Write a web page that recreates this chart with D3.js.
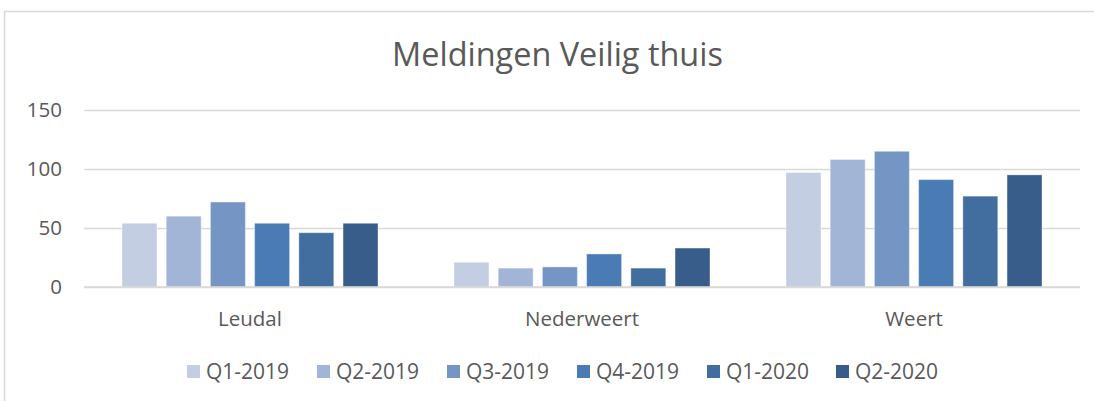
<!DOCTYPE html>
<html>
<head>
<meta charset="utf-8">
<script src="https://cdn.jsdelivr.net/npm/d3@7"></script>
<style>
  body { margin: 0; background: #fff; }
  text { font-family: "Open Sans", sans-serif; fill: #595959; }
</style>
</head>
<body>
<div id="chart"></div>
<script>
// data
let categories = ["Leudal", "Nederweert", "Weert"];
let series = ["Q1-2019", "Q2-2019", "Q3-2019", "Q4-2019", "Q1-2020", "Q2-2020"];
let q1_2019 = [54, 21, 97];
let q2_2019 = [60, 16, 108];
let q3_2019 = [72, 17, 115];
let q4_2019 = [54, 28, 91];
let q1_2020 = [46, 16, 77];
let q2_2020 = [54, 33, 95];
let yTicks = [0, 50, 100, 150];
let colors = ["#c3cee2", "#a3b5d6", "#7595c5", "#4a7bb4", "#426d9f", "#385d8b"];

let values = [q1_2019, q2_2019, q3_2019, q4_2019, q1_2020, q2_2020];

let w = 1094;
let h = 401;
let plotLeft = 84, plotRight = 1080, plotTop = 110, plotBottom = 287;
let fontFamily = "'Open Sans', sans-serif";

let svg = d3.select("#chart")
  .append("svg")
  .attr("width", w)
  .attr("height", h);

// chart frame
svg.append("rect")
  .attr("x", 4.5)
  .attr("y", 11.5)
  .attr("width", 1200)
  .attr("height", 500)
  .attr("fill", "none")
  .attr("stroke", "#d9d9d9")
  .attr("stroke-width", 1.5);

let title = svg.append("text")
  .attr("x", 557.5)
  .attr("y", 66)
  .attr("text-anchor", "middle")
  .attr("font-size", 32)
  .text("Meldingen Veilig thuis");
// shrink / grow the title to the width it has in the picture
let tw = title.node().getComputedTextLength();
title.attr("font-size", 32 * 331 / tw);

let yScale = d3.scaleLinear()
  .domain([0, 150])
  .range([plotBottom, plotTop]);

let x0 = d3.scaleBand()
  .domain(categories)
  .range([plotLeft, plotRight]);

let x1 = d3.scaleBand()
  .domain(series)
  .range([0, x0.bandwidth()])
  .paddingInner(0.21)
  .paddingOuter(0.86);

// gridlines
let yAxis = d3.axisLeft(yScale)
  .tickValues(yTicks)
  .tickSize(-(plotRight - plotLeft))
  .tickPadding(22);
let yAxisGroup = svg.append("g")
  .attr("transform", "translate(" + plotLeft + ",0)")
  .call(yAxis);
yAxisGroup.select(".domain").remove();
yAxisGroup.selectAll("line")
  .attr("stroke", "#d9d9d9")
  .attr("stroke-width", 1.5);
yAxisGroup.selectAll("text")
  .attr("font-size", 20.5)
  .attr("font-family", fontFamily)
  .attr("fill", "#595959");

// bars
let groups = svg.selectAll(".cat")
  .data(categories)
  .enter()
  .append("g")
  .attr("class", "cat")
  .attr("transform", function (d) { return "translate(" + x0(d) + ",0)"; });

groups.selectAll("rect")
  .data(function (d, i) {
    return series.map(function (s, j) { return { s: s, v: values[j][i], c: colors[j] }; });
  })
  .enter()
  .append("rect")
  .attr("x", function (d) { return x1(d.s); })
  .attr("y", function (d) { return yScale(d.v); })
  .attr("width", x1.bandwidth())
  .attr("height", function (d) { return yScale(0) - yScale(d.v); })
  .attr("fill", function (d) { return d.c; })
  .attr("stroke", "#ffffff")
  .attr("stroke-opacity", 0.35)
  .attr("stroke-width", 1);

// baseline over the bars
svg.append("line")
  .attr("x1", plotLeft)
  .attr("x2", plotRight)
  .attr("y1", yScale(0))
  .attr("y2", yScale(0))
  .attr("stroke", "#d9d9d9")
  .attr("stroke-width", 1.5);

// category labels
let xAxis = d3.axisBottom(x0).tickSize(0).tickPadding(0);
let xAxisGroup = svg.append("g")
  .attr("transform", "translate(0," + plotBottom + ")")
  .call(xAxis);
xAxisGroup.select(".domain").remove();
xAxisGroup.selectAll("text")
  .attr("y", 39)
  .attr("dy", null)
  .attr("font-size", 20.5)
  .attr("font-family", fontFamily)
  .attr("fill", "#595959");

// legend
let legendX = [187, 317, 447, 577, 707, 836];
let legend = svg.selectAll(".legend")
  .data(series)
  .enter()
  .append("g")
  .attr("class", "legend")
  .attr("transform", function (d, i) { return "translate(" + legendX[i] + ",365)"; });
legend.append("rect")
  .attr("width", 13)
  .attr("height", 13)
  .attr("fill", function (d, i) { return colors[i]; });
legend.append("text")
  .attr("x", 19)
  .attr("y", 14)
  .attr("font-size", 21)
  .text(function (d) { return d; });
</script>
</body>
</html>
